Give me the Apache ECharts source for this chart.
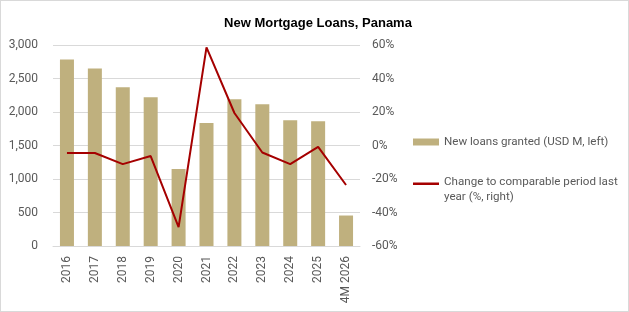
<!DOCTYPE html>
<html><head><meta charset="utf-8">
<script src="https://cdn.jsdelivr.net/npm/echarts@6/dist/echarts.min.js"></script>
<style>html,body{margin:0;padding:0;background:#fff}#c{width:629px;height:312px;box-sizing:border-box;border:1px solid #d9d9d9}</style>
</head><body><div id="c"></div>
<script>
const categories = ['2016','2017','2018','2019','2020','2021','2022','2023','2024','2025','4M 2026'];
const loans = [2785, 2651, 2369, 2220, 1150, 1834, 2190, 2116, 1878, 1863, 455];
const change = [-4.5, -4.5, -11.1, -6.3, -48.7, 58.6, 19.4, -4.2, -11.1, -0.8, -23.6];
const leftTicks = [0, 500, 1000, 1500, 2000, 2500, 3000];
const rightTicks = [-60, -40, -20, 0, 20, 40, 60];
const barName = 'New loans granted (USD M, left)';
const lineName = 'Change to comparable period last year (%, right)';

const chart = echarts.init(document.getElementById('c'));
const lab = {fontFamily: 'Roboto', fontSize: 12, color: '#595959'};
chart.setOption({
  animation: false,
  textStyle: {fontFamily: 'Roboto'},
  title: {text: 'New Mortgage Loans, Panama', left: 312, textAlign: 'center', top: 11,
    textStyle: {fontFamily: 'Arial, Liberation Sans', fontWeight: 'bold', fontSize: 13, color: '#000'}},
  grid: {left: 52, right: 268, top: 44, bottom: 65},
  legend: [{
    data: [barName], orient: 'vertical', left: 412, top: 135, padding: 0, itemWidth: 26, itemHeight: 7,
    textStyle: {...lab, fontSize: 11.6}, icon: 'rect'
  }, {
    data: [{name: lineName, icon: 'path://M0,0L26,0L26,2.5L0,2.5Z M0,15L0.05,15L0.05,15.05L0,15.05Z'}],
    orient: 'vertical', left: 412, top: 174, padding: 0,
    itemWidth: 26, itemHeight: 15.05,
    textStyle: {...lab, fontSize: 11.6, lineHeight: 15},
    formatter: () => 'Change to comparable period last\nyear (%, right)'
  }],
  xAxis: {type: 'category', data: categories,
    axisLine: {lineStyle: {color: '#d9d9d9'}}, axisTick: {show: false},
    axisLabel: {...lab, rotate: 90, interval: 0, margin: 10}},
  yAxis: [{
    type: 'value', min: 0, max: 3000, interval: 500,
    axisLabel: {...lab, margin: 15, formatter: v => v.toLocaleString('en-US')},
    splitLine: {lineStyle: {color: '#d9d9d9'}}, axisLine: {show: false}, axisTick: {show: false}
  }, {
    type: 'value', min: -60, max: 60, interval: 20,
    axisLabel: {...lab, margin: 12, formatter: v => v + '%'},
    splitLine: {show: false}, axisLine: {show: false}, axisTick: {show: false}
  }],
  series: [{
    name: barName, type: 'bar', data: loans, barWidth: 14, itemStyle: {color: '#BFB07E'}
  }, {
    name: lineName, type: 'line', yAxisIndex: 1, data: change, symbol: 'none',
    lineStyle: {color: '#A50000', width: 2}, itemStyle: {color: '#A50000'}
  }]
});
</script></body></html>
